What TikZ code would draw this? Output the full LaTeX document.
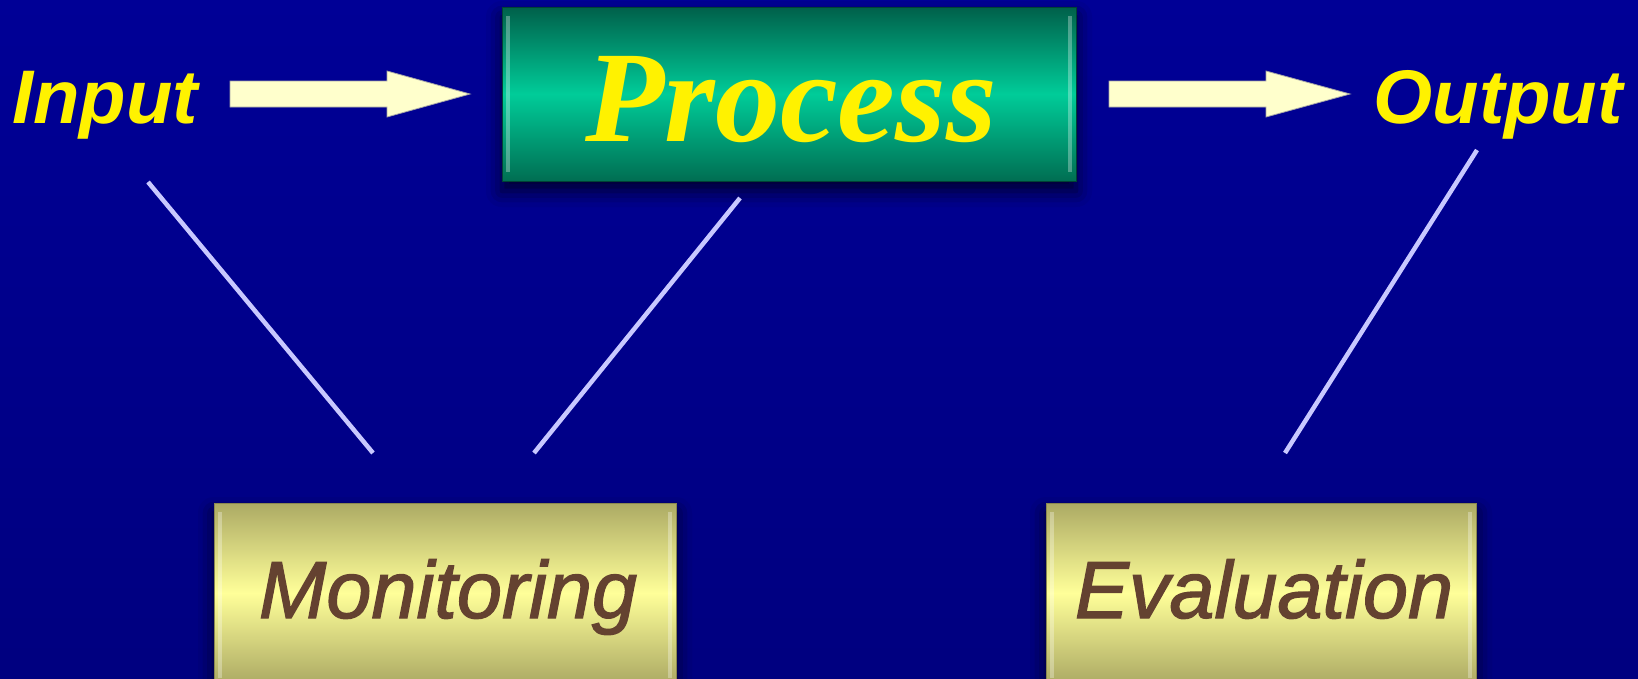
\documentclass[tikz,border=0pt]{standalone}
\usepackage{fontspec}
\newfontfamily\arialfont{Liberation Sans}
\newfontfamily\arialheavy[FakeBold=1.6]{Liberation Sans}
\newfontfamily\timesfont{Liberation Serif}
\usetikzlibrary{shadows.blur}
\definecolor{bgblue}{RGB}{0,0,150}
\definecolor{tealtop}{RGB}{0,96,74}
\definecolor{tealmid}{RGB}{0,204,153}
\definecolor{tealbot}{RGB}{0,110,82}
\definecolor{goldedge}{RGB}{172,170,100}
\definecolor{goldmid}{RGB}{255,255,153}
\definecolor{brownink}{RGB}{100,66,48}
\definecolor{arrowfill}{RGB}{255,255,204}
\definecolor{connline}{RGB}{200,200,255}
\tikzset{
  boxshadow/.style={blur shadow={shadow xshift=0pt, shadow yshift=-10pt, shadow blur radius=16pt, shadow opacity=70}},
  procbox/.style={rectangle, inner sep=0pt, minimum width=574pt, minimum height=174pt,
    top color=tealtop, bottom color=tealbot, middle color=tealmid, draw=tealtop!70!black, line width=1pt, boxshadow},
  goldbox/.style={rectangle, inner sep=0pt, minimum width=462pt, minimum height=180pt,
    top color=goldedge, bottom color=goldedge, middle color=goldmid, draw=goldedge!80!black, line width=1pt, boxshadow},
  bigtxt/.style={inner sep=0pt, anchor=base, text=yellow, font=\arialfont\bfseries\itshape\fontsize{76}{90}\selectfont},
  proctxt/.style={inner sep=0pt, anchor=base, text=yellow, font=\timesfont\bfseries\itshape\fontsize{130}{150}\selectfont},
  lowtxt/.style={inner sep=0pt, anchor=base, text=brownink, font=\arialheavy\itshape\fontsize{81}{96}\selectfont},
  blockarrow/.style={fill=arrowfill, draw=gray!70, line width=0.8pt},
  conn/.style={draw=connline, line width=4.5pt},
  bevel/.style={white, opacity=0.3, line width=4pt}
}
\begin{document}
\begin{tikzpicture}[x=1pt,y=-1pt]
\useasboundingbox (0,0) rectangle (1638,678);
\shade[top color=bgblue, bottom color=bgblue!85!black] (0,0) rectangle (1638,678);

% boxes
\node[procbox] (proc) at (789,94) {};
\node[goldbox] (mon) at (445,593) {};
\node[goldbox, minimum width=430pt] (eva) at (1261,593) {};

% bevel highlights
\draw[bevel] (508,16) -- (508,172);
\draw[bevel] (1070,16) -- (1070,172);
\draw[bevel] (220,512) -- (220,678);
\draw[bevel] (670,512) -- (670,678);
\draw[bevel] (1052,512) -- (1052,678);
\draw[bevel] (1470,512) -- (1470,678);

% texts
\node[proctxt] (proct) at (791,141) {Process};
\node[bigtxt] (int) at (105,123) {Input};
\node[bigtxt] (outt) at (1498,123) {Output};
\node[lowtxt] (mont) at (448,618) {Monitoring};
\node[lowtxt] (evat) at (1264,618) {Evaluation};

% block arrows
\draw[blockarrow] (230,81) -- (387,81) -- (387,71) -- (470,94) -- (387,117) -- (387,107) -- (230,107) -- cycle;
\draw[blockarrow] (1109,81) -- (1266,81) -- (1266,71) -- (1350,94) -- (1266,117) -- (1266,107) -- (1109,107) -- cycle;

% connectors
\coordinate (c1a) at (148,182);
\coordinate (c1b) at (373,453);
\coordinate (c2a) at (740,198);
\coordinate (c2b) at (534,453);
\coordinate (c3a) at (1477,150);
\coordinate (c3b) at (1285,453);
\draw[conn] (c1a) -- (c1b);
\draw[conn] (c2a) -- (c2b);
\draw[conn] (c3a) -- (c3b);
\end{tikzpicture}
\end{document}
